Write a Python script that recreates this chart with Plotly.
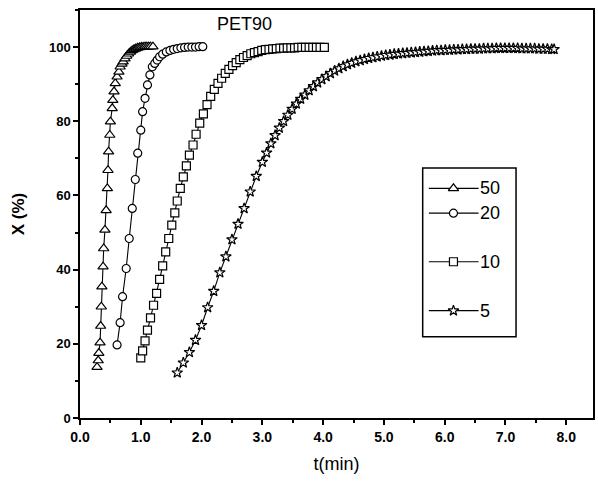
import plotly.graph_objects as go

# ---- data ----
t50 = [0.28, 0.30, 0.31, 0.33, 0.34, 0.35, 0.36, 0.38, 0.39, 0.41, 0.43, 0.45, 0.46, 0.47,
       0.49, 0.50, 0.53, 0.54, 0.56, 0.58, 0.61, 0.64, 0.66, 0.69, 0.71, 0.74, 0.77, 0.80,
       0.83, 0.86, 0.89, 0.92, 0.95, 0.98, 1.01, 1.04, 1.07, 1.10, 1.13, 1.16, 1.20]
x50 = [13.7, 15.5, 17.5, 20.3, 24.8, 30.0, 35.4, 40.8, 45.7, 50.7, 56.0, 61.9, 66.8, 71.8,
       76.3, 79.9, 83.5, 85.7, 88.0, 90.2, 92.0, 93.3, 94.7, 95.5, 96.1, 96.9, 97.6, 98.2,
       98.7, 99.1, 99.4, 99.6, 99.8, 99.9, 100.0, 100.0, 100.1, 100.1, 100.1, 100.1, 100.1]

t20 = [0.61, 0.66, 0.70, 0.76, 0.81, 0.86, 0.91, 0.95, 1.00, 1.03, 1.07, 1.11, 1.15, 1.19,
       1.23, 1.27, 1.31, 1.36, 1.42, 1.48, 1.54, 1.60, 1.66, 1.72, 1.78, 1.84, 1.90, 1.96, 2.02]
x20 = [19.7, 25.7, 32.7, 40.3, 48.4, 56.5, 64.3, 71.4, 77.6, 82.6, 86.2, 89.8, 92.5, 94.7,
       95.6, 96.5, 97.4, 98.1, 98.7, 99.1, 99.4, 99.6, 99.8, 99.9, 100.0, 100.0, 100.0, 100.1, 100.1]

t10 = [1.00, 1.03, 1.07, 1.11, 1.16, 1.21, 1.26, 1.31, 1.36, 1.41, 1.46, 1.51, 1.56, 1.60,
       1.65, 1.70, 1.75, 1.80, 1.86, 1.91, 1.97, 2.03, 2.09, 2.15, 2.21, 2.27, 2.33, 2.39,
       2.45, 2.51, 2.57, 2.63, 2.69, 2.75, 2.81, 2.87, 2.93, 2.99, 3.05, 3.11, 3.17, 3.23,
       3.29, 3.35, 3.41, 3.47, 3.53, 3.59, 3.65, 3.71, 3.77, 3.83, 3.89, 3.95, 4.02]
x10 = [16.2, 18.1, 20.8, 23.7, 27.0, 30.4, 33.6, 37.4, 41.0, 44.8, 48.4, 52.0, 55.3, 58.5,
       61.9, 65.0, 68.0, 70.9, 73.6, 76.5, 79.5, 82.0, 84.5, 86.7, 88.6, 90.2, 91.6, 92.9,
       94.0, 95.0, 95.8, 96.6, 97.2, 97.7, 98.2, 98.5, 98.8, 99.1, 99.3, 99.4, 99.5, 99.6,
       99.7, 99.7, 99.8, 99.8, 99.8, 99.9, 99.9, 99.9, 99.9, 99.9, 99.9, 99.9, 99.9]

t5 = [1.60, 1.70, 1.80, 1.90, 2.00, 2.10, 2.20, 2.30, 2.40, 2.50, 2.60, 2.70, 2.80, 2.90,
      3.00, 3.07, 3.14, 3.21, 3.28, 3.35, 3.42, 3.49, 3.56, 3.63, 3.70, 3.77, 3.84, 3.91,
      3.98, 4.05, 4.12, 4.19, 4.26, 4.33, 4.40, 4.47, 4.54, 4.61, 4.68, 4.75, 4.82, 4.89,
      4.96, 5.03, 5.10, 5.17, 5.24, 5.31, 5.38, 5.45, 5.52, 5.59, 5.66, 5.73, 5.80, 5.87,
      5.94, 6.01, 6.08, 6.15, 6.22, 6.29, 6.36, 6.43, 6.50, 6.57, 6.64, 6.71, 6.78, 6.85,
      6.92, 6.99, 7.06, 7.13, 7.20, 7.27, 7.34, 7.41, 7.48, 7.55, 7.62, 7.69, 7.76, 7.80]
x5 = [12.2, 14.9, 17.7, 21.0, 25.0, 29.8, 34.2, 39.2, 43.5, 48.1, 52.3, 56.5, 61.0, 65.2,
      69.0, 71.5, 74.0, 76.2, 78.2, 80.0, 81.7, 83.3, 84.7, 86.0, 87.1, 88.3, 89.4, 90.4,
      91.3, 92.1, 92.9, 93.6, 94.2, 94.8, 95.3, 95.7, 96.1, 96.4, 96.7, 97.0, 97.2, 97.4,
      97.6, 97.8, 97.9, 98.1, 98.2, 98.3, 98.4, 98.5, 98.6, 98.7, 98.8, 98.9, 99.0, 99.1,
      99.1, 99.2, 99.2, 99.3, 99.3, 99.4, 99.4, 99.5, 99.5, 99.5, 99.6, 99.6, 99.6, 99.7,
      99.7, 99.7, 99.7, 99.7, 99.7, 99.6, 99.6, 99.6, 99.6, 99.5, 99.5, 99.5, 99.4, 99.4]

series_names = ["50", "20", "10", "5"]
series_t = [t50, t20, t10, t5]
series_x = [x50, x20, x10, x5]
symbols = ["triangle-up", "circle", "square", "star"]
sizes = [9, 8, 8, 8]

x_ticks = [0, 1, 2, 3, 4, 5, 6, 7, 8]
x_ticklabels = ["0.0", "1.0", "2.0", "3.0", "4.0", "5.0", "6.0", "7.0", "8.0"]
y_ticks = [0, 20, 40, 60, 80, 100]

# legend layout (fractions of the plot area)
leg_y = [0.563, 0.502, 0.383, 0.263]

FONT = "Liberation Sans, Arial, sans-serif"
fig = go.Figure()

for name, tt, xx, sym, sz in zip(series_names, series_t, series_x, symbols, sizes):
    fig.add_trace(go.Scatter(
        x=tt, y=xx, mode="lines+markers", name=name, showlegend=False,
        line=dict(color="black", width=1.1),
        marker=dict(symbol=sym, size=sz, color="white",
                    line=dict(color="black", width=1.2)),
    ))

# manual legend, on an overlay axis spanning the plot area
for name, ly, sym, sz in zip(series_names, leg_y, symbols, sizes):
    fig.add_trace(go.Scatter(
        x=[0.680, 0.728, 0.777], y=[ly, ly, ly], mode="lines", xaxis="x2", yaxis="y2",
        showlegend=False, hoverinfo="skip", line=dict(color="black", width=1.2)))
    fig.add_trace(go.Scatter(
        x=[0.728], y=[ly], mode="markers", xaxis="x2", yaxis="y2",
        showlegend=False, hoverinfo="skip",
        marker=dict(symbol=sym, size=sz, color="white", line=dict(color="black", width=1.2))))
    fig.add_annotation(x=0.776, y=ly, xref="x2", yref="y2", text=name, showarrow=False,
                       xanchor="left", yanchor="middle",
                       font=dict(family=FONT, size=18, color="black"))

fig.add_shape(type="rect", xref="paper", yref="paper", x0=0.668, x1=0.850, y0=0.199, y1=0.613,
              line=dict(color="black", width=1.5), fillcolor="rgba(0,0,0,0)")

fig.add_annotation(x=0.32, y=0.995, xref="paper", yref="paper", text="PET90", showarrow=False,
                   xanchor="center", yanchor="top",
                   font=dict(family=FONT, size=18, color="black"))

axis_common = dict(showgrid=False, zeroline=False, showline=True, linecolor="black",
                   linewidth=1.5, mirror=True, ticks="outside", ticklen=5, tickwidth=1.5,
                   tickcolor="black")

fig.update_layout(
    width=598, height=483, autosize=False,
    margin=dict(l=80, r=3, t=10, b=65),
    paper_bgcolor="white", plot_bgcolor="white",
    xaxis=dict(range=[0, 8.44], tickvals=x_ticks, ticktext=x_ticklabels,
               tickfont=dict(family=FONT, size=14, color="black", weight="bold"),
               minor=dict(dtick=0.5, ticks="outside", ticklen=3, tickwidth=1.5, tickcolor="black"),
               title=dict(text="t(min)", font=dict(family=FONT, size=18, color="black"), standoff=14),
               **axis_common),
    yaxis=dict(range=[0, 110], tickvals=y_ticks,
               tickfont=dict(family=FONT, size=13, color="black", weight="bold"),
               minor=dict(dtick=10, ticks="outside", ticklen=3, tickwidth=1.5, tickcolor="black"),
               title=dict(text="<b>X (%)</b>", font=dict(family=FONT, size=17, color="black"), standoff=20),
               **axis_common),
    xaxis2=dict(overlaying="x", range=[0, 1], visible=False, anchor="y2"),
    yaxis2=dict(overlaying="y", range=[0, 1], visible=False, anchor="x2"),
)

fig.write_html("out.html", config={"displayModeBar": False},
               post_script="document.body.style.margin='0';")
